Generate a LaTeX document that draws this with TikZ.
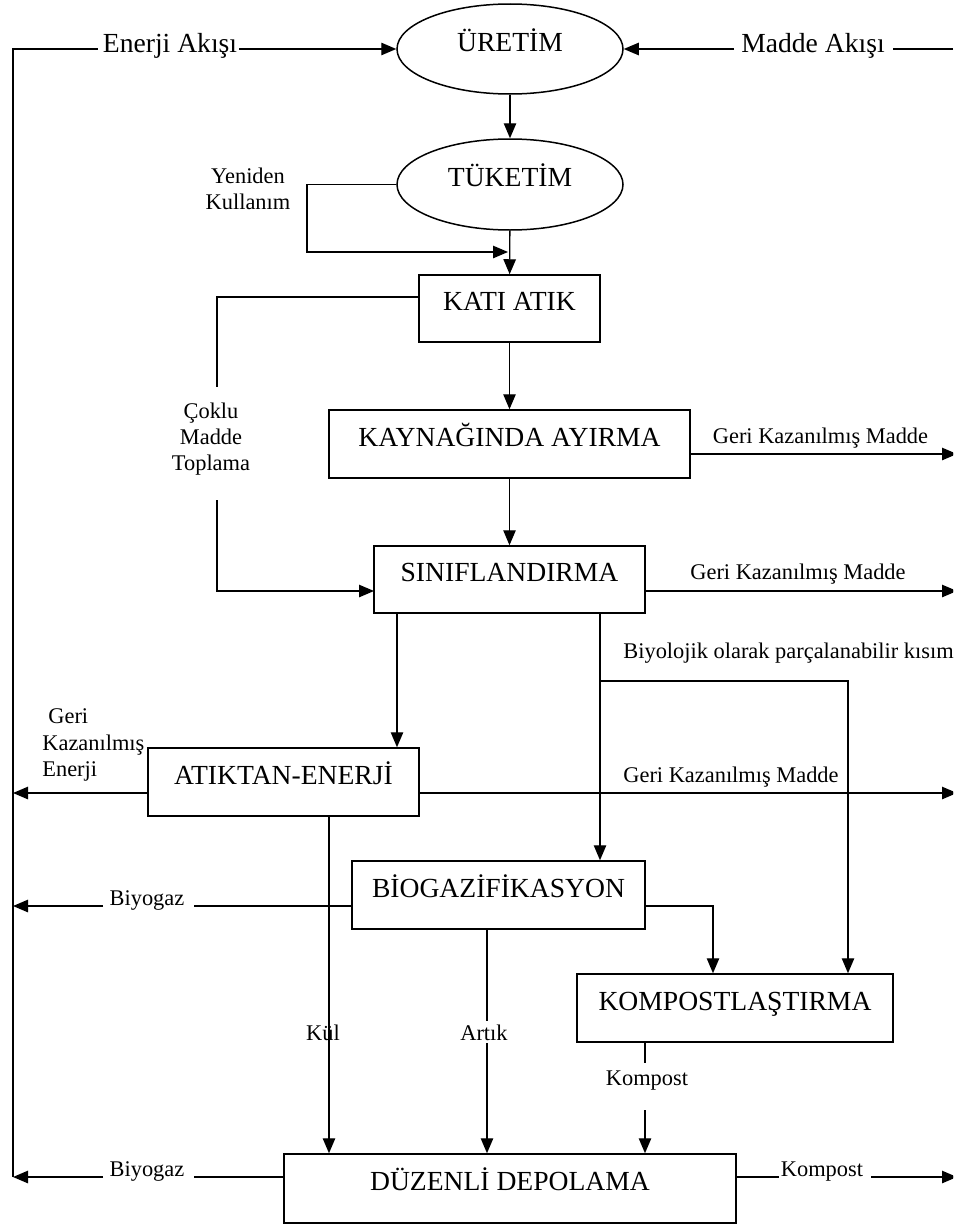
\documentclass[tikz,border=0pt]{standalone}
\usepackage{fontspec}
\setmainfont{Liberation Serif}
\usetikzlibrary{arrows.meta,shapes.geometric}
\begin{document}
\begin{tikzpicture}[x=0.5pt,y=-0.5pt,
  ln/.style={line width=0.7pt},
  arr/.style={ln,-{Triangle[length=7.5pt,width=6.2pt]}},
  box/.style={draw,line width=0.75pt,rectangle,inner sep=0pt,font=\fontsize{13.8}{16}\selectfont,text height=10pt,text depth=8pt},
  ell/.style={box,ellipse},
  lab/.style={font=\fontsize{11.2}{13.1}\selectfont,inner sep=0pt},
  biglab/.style={font=\fontsize{13.8}{16}\selectfont,inner sep=0pt}]
\useasboundingbox (0,0) rectangle (953,1226);
\clip (0,0) rectangle (953,1226);

% nodes
\node[ell,minimum width=113pt,minimum height=45pt] (uretim) at (510,49) {ÜRETİM};
\node[ell,minimum width=113pt,minimum height=45.5pt] (tuketim) at (510,184.5) {TÜKETİM};
\node[box,minimum width=90.5pt,minimum height=33.5pt] (kati) at (509.5,308.5) {KATI ATIK};
\node[box,minimum width=180.5pt,minimum height=34pt] (kaynak) at (509.5,444) {KAYNAĞINDA AYIRMA};
\node[box,minimum width=135.5pt,minimum height=33.5pt] (sinif) at (509.5,579.5) {SINIFLANDIRMA};
\node[box,minimum width=135.5pt,minimum height=34pt] (atiktan) at (283.5,782) {ATIKTAN-ENERJİ};
\node[box,minimum width=146.5pt,minimum height=34pt] (biogaz) at (498.5,895) {BİOGAZİFİKASYON};
\node[box,minimum width=158pt,minimum height=34pt] (kompost) at (735,1008) {KOMPOSTLAŞTIRMA};
\node[box,minimum width=226pt,minimum height=34.5pt] (duzenli) at (510,1188.5) {DÜZENLİ DEPOLAMA};

% helper coordinates
\coordinate (TL) at (13,49);
\coordinate (BL) at (13,1177);

% energy flow (top left)
\coordinate (e1) at (98,49);
\coordinate (e2) at (239,49);
\draw[ln] (BL) -- (TL) -- (e1);
\draw[arr] (e2) -- (uretim.west);
\node[biglab,anchor=base] (enerji) at (170,52) {Enerji Akışı};

% material flow (top right)
\coordinate (m0) at (953,49);
\coordinate (m1) at (893,49);
\coordinate (m2) at (734,49);
\draw[ln] (m0) -- (m1);
\draw[arr] (m2) -- (uretim.east);
\node[biglab,anchor=base] (madde) at (813,52) {Madde Akışı};

\draw[arr] (uretim) -- (tuketim);

% reuse loop
\coordinate (y1) at (307,184.5);
\coordinate (y2) at (508,252);
\draw[arr] (tuketim.west) -- (y1) |- (y2);
\node[lab,align=center] (yeniden) at (248,188.5) {Yeniden\\Kullanım};
\draw[arr] (tuketim) -- (kati);

% multi material collection
\coordinate (c1) at (419,297);
\coordinate (c2) at (217,387);
\coordinate (c3) at (217,500);
\coordinate (c4) at (374,591);
\draw[ln] (c1) -| (c2);
\draw[arr] (c3) |- (c4);
\node[lab,align=center] (coklu) at (211,439) {Çoklu\\Madde\\Toplama};

\draw[arr] (kati) -- (kaynak);
\coordinate (k1) at (957,454);
\draw[arr] (kaynak.east |- k1) -- (k1);
\node[lab,anchor=base] (gk1) at (820.5,443) {Geri Kazanılmış Madde};

\draw[arr] (kaynak) -- (sinif);
\coordinate (s1) at (957,591);
\draw[arr] (sinif.east |- s1) -- (s1);
\node[lab,anchor=base] (gk2) at (798,579) {Geri Kazanılmış Madde};

\coordinate (x397) at (397,0);
\draw[arr] (sinif.south -| x397) -- (atiktan.north -| x397);
\coordinate (x600) at (600,0);
\draw[arr] (sinif.south -| x600) -- (biogaz.north -| x600);
\coordinate (b1) at (600,681);
\coordinate (b2) at (848,681);
\draw[arr] (b1) -- (b2) -- (kompost.north -| b2);
\node[lab,anchor=base west] (biyo) at (623,658) {Biyolojik olarak parçalanabilir kısım};

% recovered energy / material
\coordinate (h793) at (0,793);
\draw[arr] (atiktan.west |- h793) -- (TL |- h793);
\coordinate (r793) at (957,793);
\draw[arr] (atiktan.east |- h793) -- (r793);
\node[lab,align=left,anchor=west] (gke) at (42,745) {\hspace{3pt}Geri\\Kazanılmış\\Enerji};
\node[lab,anchor=base] (gk3) at (731,782) {Geri Kazanılmış Madde};

% biogas from biogasification
\coordinate (g1) at (194,906);
\coordinate (g2) at (103,906);
\draw[ln] (biogaz.west |- g1) -- (g1);
\draw[arr] (g2) -- (TL |- g2);
\node[lab,anchor=base] (biyogaz1) at (147,905) {Biyogaz};

\coordinate (x713) at (713,0);
\draw[arr] (biogaz.east |- g1) -| (kompost.north -| x713);

% ash
\coordinate (x329) at (329,0);
\draw[arr] (atiktan.south -| x329) -- (duzenli.north -| x329);
\node[lab,anchor=base] (kul) at (323,1040) {Kül};

% residue
\coordinate (x487) at (487,0);
\draw[arr] (biogaz.south -| x487) -- (duzenli.north -| x487);
\node[lab,anchor=base,fill=white,inner sep=1.5pt] (artik) at (484,1040) {Artık};

% compost down
\coordinate (x645) at (645,0);
\coordinate (ka) at (645,1063);
\coordinate (kb) at (645,1110);
\draw[ln] (kompost.south -| x645) -- (ka);
\draw[arr] (kb) -- (duzenli.north -| x645);
\node[lab,anchor=base] (komp1) at (647,1085) {Kompost};

% bottom outputs
\coordinate (d1) at (194,1177);
\coordinate (d2) at (103,1177);
\draw[ln] (duzenli.west |- d1) -- (d1);
\draw[arr] (d2) -- (BL);
\node[lab,anchor=base] (biyogaz2) at (147,1176) {Biyogaz};

\coordinate (d3) at (779,1177);
\coordinate (d4) at (871,1177);
\coordinate (d5) at (957,1177);
\draw[ln] (duzenli.east |- d3) -- (d3);
\draw[arr] (d4) -- (d5);
\node[lab,anchor=base] (komp2) at (822,1176) {Kompost};
\end{tikzpicture}
\end{document}
